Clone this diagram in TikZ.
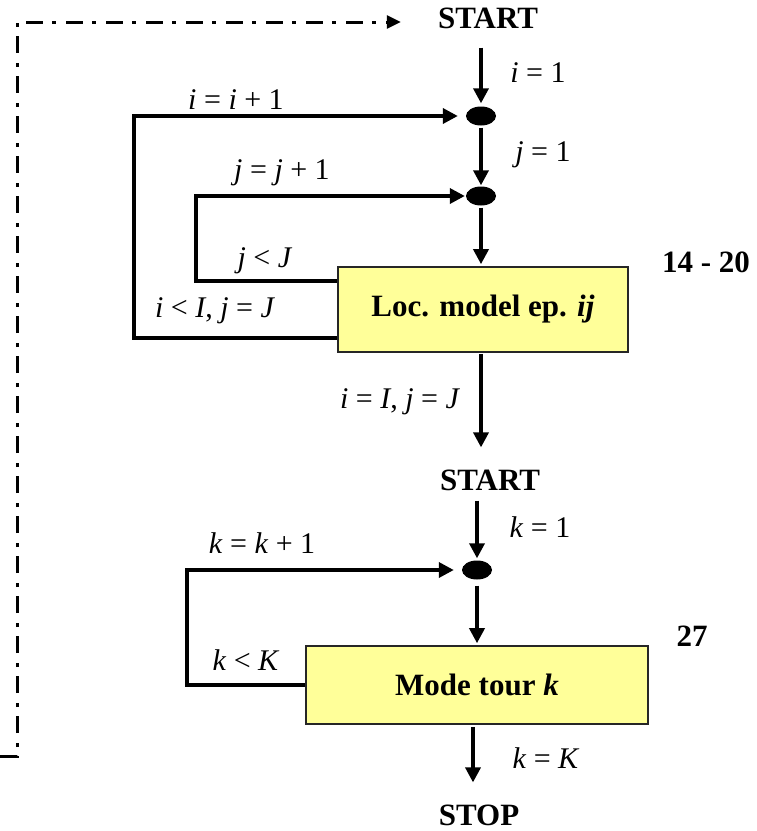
\documentclass[tikz,border=0pt]{standalone}
\usepackage{fontspec}
\setmainfont{Liberation Serif}
\usetikzlibrary{arrows.meta,shapes.geometric}
\definecolor{procfill}{HTML}{FFFF99}
\newcommand{\mv}[1]{\textit{#1}}
\begin{document}
\begin{tikzpicture}[x=1bp,y=-1bp,
  flow/.style={line width=3.5bp,-{Triangle[length=15bp,width=15bp]}},
  restart/.style={line width=3bp,dash pattern=on 17bp off 9bp on 4bp off 10bp,
    -{Triangle[length=14bp,width=13bp]}},
  title/.style={font=\fontsize{31bp}{36bp}\selectfont\bfseries,inner sep=0pt},
  lbl/.style={font=\fontsize{30bp}{34bp}\selectfont,inner sep=0pt},
  junction/.style={ellipse,fill=black,minimum width=30bp,minimum height=19bp,inner sep=0pt},
  process/.style={draw=black!85,line width=1.6bp,fill=procfill,inner sep=0pt,
    font=\fontsize{31bp}{36bp}\selectfont\bfseries}]
\useasboundingbox (0,0) rectangle (757,831);

% first nested loop: i over I, j over J
\node[title] (start1) at (488,18) {START};
\node[junction] (dot1) at (481,116) {};
\node[junction] (dot2) at (481,196) {};
\node[process,minimum width=290bp,minimum height=85bp] (box1) at (483,309.5)
  {Loc. model ep. \textit{ij}};
\node[title] (ref1) at (706,262) {14 - 20};

% second loop: k over K
\node[title] (start2) at (490,480) {START};
\node[junction] (dot3) at (477,570) {};
\node[process,minimum width=342bp,minimum height=78bp] (box2) at (477,685)
  {Mode tour \textit{k}};
\node[title] (ref2) at (692,636) {27};
\node[title] (stop) at (479,815) {STOP};

% main flow
\draw[flow,shorten <=19bp,shorten >=3bp] (start1.south -| dot1) -- (dot1);
\draw[flow,shorten <=2bp,shorten >=1bp] (dot1) -- (dot2);
\draw[flow,shorten <=2bp,shorten >=2bp] (dot2) -- (dot2 |- box1.north);
\draw[flow,shorten <=1bp,shorten >=22bp] (dot2 |- box1.south) -- (dot2 |- start2.north);
\draw[flow,shorten <=10bp,shorten >=2bp] (start2.south -| dot3) -- (dot3);
\draw[flow,shorten <=6bp,shorten >=2bp] (dot3) -- (dot3 |- box2.north);
\draw[flow,shorten <=2bp,shorten >=22bp] ([xshift=-4bp]box2.south) -- ([xshift=-4bp]box2.south |- stop.north);

% feedback loops
\draw[flow,shorten >=8bp] ([yshift=15bp]box1.south west) -- ++(-203,0) |- (dot1);
\draw[flow,shorten >=1bp] ([yshift=-15bp]box1.north west) -- ++(-141,0) |- (dot2);
\draw[flow,shorten >=8bp] (box2.west) -- ++(-118,0) |- (dot3);

% restart path back to the top
\coordinate (loopfoot) at (0,756);
\draw[restart,shorten >=37bp] (loopfoot) -- ++(17,0) |- ([yshift=-4bp]start1.west);

% labels
\node[lbl] (l1) at (538,73) {\mv{i} = 1};
\node[lbl] (l2) at (543,155) {\mv{j} = 1};
\node[lbl] (l3) at (236,100) {\mv{i} = \mv{i} + 1};
\node[lbl] (l4) at (282,173) {\mv{j} = \mv{j} + 1};
\node[lbl] (l5) at (265,261) {\mv{j} < \mv{J}};
\node[lbl] (l6) at (215,311) {\mv{i} < \mv{I}, \mv{j} = \mv{J}};
\node[lbl] (l7) at (400,402) {\mv{i} = \mv{I}, \mv{j} = \mv{J}};
\node[lbl] (l8) at (540,527) {\mv{k} = 1};
\node[lbl] (l9) at (262,543) {\mv{k} = \mv{k} + 1};
\node[lbl] (l10) at (246,660) {\mv{k} < \mv{K}};
\node[lbl] (l11) at (546,758) {\mv{k} = \mv{K}};
\end{tikzpicture}
\end{document}
